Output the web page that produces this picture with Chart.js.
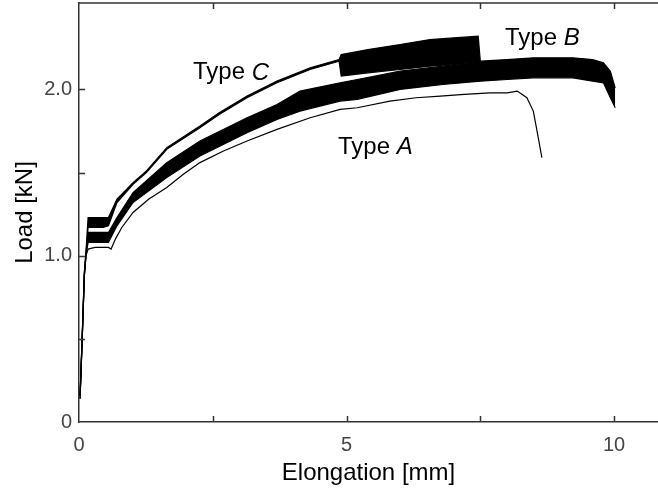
<!DOCTYPE html>
<html>
<head>
<meta charset="utf-8">
<script src="https://cdn.jsdelivr.net/npm/chart.js@4/dist/chart.umd.min.js"></script>
<style>
    html, body { margin: 0; padding: 0; background: #fff; }
    canvas { display: block; }
</style>
</head>
<body>
<canvas id="chart" width="658" height="492"></canvas>
<script>
// Type A: single thin curve
const elongA = [0.02, 0.06, 0.10, 0.13, 0.17, 0.30, 0.45, 0.55, 0.60, 0.68, 0.80, 1.01, 1.30, 1.64, 1.95, 2.26, 2.70, 3.14, 3.70, 4.32, 4.88, 5.20, 5.81, 6.30, 6.75, 7.20, 7.68, 8.00, 8.19, 8.37, 8.49, 8.56, 8.65];
const loadA  = [0.16, 0.50, 0.88, 1.00, 1.04, 1.05, 1.05, 1.05, 1.04, 1.10, 1.17, 1.26, 1.34, 1.41, 1.49, 1.56, 1.63, 1.69, 1.76, 1.83, 1.88, 1.89, 1.93, 1.95, 1.96, 1.97, 1.98, 1.98, 1.99, 1.95, 1.87, 1.75, 1.59];

// Type B: noisy band, upper and lower edge
const elongB = [0.02, 0.06, 0.10, 0.13, 0.17, 0.30, 0.45, 0.55, 0.71, 1.01, 1.64, 2.26, 3.14, 3.70, 4.13, 4.88, 5.20, 6.00, 6.80, 7.50, 8.00, 8.49, 9.23, 9.60, 9.80, 9.93, 10.02];
const upperB = [0.16, 0.52, 0.90, 1.02, 1.14, 1.14, 1.14, 1.14, 1.23, 1.38, 1.56, 1.69, 1.83, 1.91, 1.99, 2.04, 2.06, 2.11, 2.14, 2.17, 2.18, 2.19, 2.19, 2.18, 2.16, 2.11, 2.01];
const lowerB = [0.14, 0.50, 0.88, 1.00, 1.08, 1.08, 1.08, 1.08, 1.18, 1.32, 1.47, 1.60, 1.74, 1.82, 1.87, 1.93, 1.94, 2.00, 2.03, 2.05, 2.06, 2.07, 2.07, 2.05, 2.04, 1.95, 1.89];

// Type C: thin curve, then a band from about 4.9 mm on
const elongC = [0.02, 0.06, 0.10, 0.13, 0.17, 0.30, 0.45, 0.55, 0.71, 1.01, 1.26, 1.64, 2.26, 2.62, 3.14, 3.70, 4.32, 4.86, 4.90, 5.40, 6.00, 6.56, 7.00, 7.46, 7.50];
const upperC = [0.16, 0.52, 0.90, 1.02, 1.23, 1.23, 1.23, 1.23, 1.34, 1.44, 1.51, 1.65, 1.78, 1.86, 1.96, 2.05, 2.13, 2.18, 2.21, 2.24, 2.27, 2.30, 2.31, 2.32, 2.17];
const lowerC = [0.14, 0.50, 0.88, 1.00, 1.17, 1.17, 1.17, 1.18, 1.32, 1.43, 1.50, 1.64, 1.77, 1.85, 1.95, 2.04, 2.12, 2.17, 2.08, 2.10, 2.12, 2.14, 2.15, 2.17, 2.17];

// axis ticks
const xTicks = [2.5, 5, 7.5, 10];
const xTickLabels = { 0: '0', 5: '5', 10: '10' };
const yTicks = [0.5, 1.0, 1.5, 2.0];
const yTickLabels = { 0: '0', 1: '1.0', 2: '2.0' };

// curve labels (name, italic letter, anchor in data units)
const typeNames = ['Type ', 'Type ', 'Type '];
const typeLetters = ['C', 'B', 'A'];
const typeLabelX = [2.13, 7.96, 4.84];
const typeLabelY = [2.10, 2.31, 1.65];

const FONT = "'Liberation Sans', Arial, Helvetica, sans-serif";

function toPoints(xs, ys) {
    return xs.map((x, i) => ({ x: x, y: ys[i] }));
}

function lineSet(xs, ys, fill) {
    return {
        data: toPoints(xs, ys),
        borderColor: '#000',
        borderWidth: 1.2,
        backgroundColor: '#000',
        pointRadius: 0,
        tension: 0,
        fill: fill
    };
}

// inner tick marks, top frame line and the type labels
const framePlugin = {
    id: 'framePlugin',
    afterDraw(chart) {
        const ctx = chart.ctx;
        const a = chart.chartArea;
        const x = chart.scales.x;
        const y = chart.scales.y;
        ctx.save();
        ctx.strokeStyle = '#333';
        ctx.lineWidth = 1.5;
        ctx.beginPath();
        ctx.moveTo(a.left, a.top);
        ctx.lineTo(a.right, a.top);
        xTicks.forEach(v => {
            const px = Math.round(x.getPixelForValue(v)) + 0.5;
            ctx.moveTo(px, a.bottom);
            ctx.lineTo(px, a.bottom - 6);
            ctx.moveTo(px, a.top);
            ctx.lineTo(px, a.top + 6);
        });
        yTicks.forEach(v => {
            const py = Math.round(y.getPixelForValue(v)) + 0.5;
            ctx.moveTo(a.left, py);
            ctx.lineTo(a.left + 6, py);
        });
        ctx.stroke();

        ctx.fillStyle = '#000';
        ctx.textBaseline = 'middle';
        ctx.textAlign = 'left';
        typeNames.forEach((name, i) => {
            const px = x.getPixelForValue(typeLabelX[i]);
            const py = y.getPixelForValue(typeLabelY[i]);
            ctx.font = '24px ' + FONT;
            ctx.fillText(name, px, py);
            const w = ctx.measureText(name).width;
            ctx.font = 'italic 24px ' + FONT;
            ctx.fillText(typeLetters[i], px + w, py);
        });
        ctx.restore();
    }
};

new Chart(document.getElementById('chart'), {
    type: 'line',
    data: {
        datasets: [
            lineSet(elongC, upperC, '+1'),
            lineSet(elongC, lowerC, false),
            lineSet(elongB, upperB, '+1'),
            lineSet(elongB, lowerB, false),
            lineSet(elongA, loadA, false)
        ]
    },
    options: {
        responsive: false,
        animation: false,
        layout: { padding: { top: 3, right: 0, left: 0, bottom: 0 } },
        plugins: {
            legend: { display: false },
            tooltip: { enabled: false }
        },
        scales: {
            x: {
                type: 'linear',
                min: 0,
                max: 10.82,
                afterFit: s => { s.height = 70; s.paddingLeft = 0; s.paddingRight = 0; },
                afterBuildTicks: s => { s.ticks = [0, 5, 10].map(v => ({ value: v })); },
                grid: { display: true, drawOnChartArea: false, drawTicks: false },
                border: { display: true, color: '#333', width: 1.5 },
                ticks: {
                    padding: 11,
                    color: '#444',
                    font: { family: FONT, size: 20 },
                    callback: v => xTickLabels[v] ?? ''
                },
                title: {
                    display: true,
                    text: 'Elongation [mm]',
                    color: '#000',
                    font: { family: FONT, size: 24 },
                    padding: { top: 0, bottom: 4 }
                }
            },
            y: {
                min: 0,
                max: 2.52,
                afterFit: s => { s.width = 79; s.paddingTop = 0; s.paddingBottom = 0; },
                afterBuildTicks: s => { s.ticks = [0, 1, 2].map(v => ({ value: v })); },
                grid: { display: true, drawOnChartArea: false, drawTicks: false },
                border: { display: true, color: '#333', width: 1.5 },
                ticks: {
                    padding: 7,
                    color: '#444',
                    font: { family: FONT, size: 20 },
                    callback: v => yTickLabels[v] ?? ''
                },
                title: {
                    display: true,
                    text: 'Load [kN]',
                    color: '#000',
                    font: { family: FONT, size: 24 },
                    padding: { top: 11, bottom: 0 }
                }
            }
        }
    },
    plugins: [framePlugin]
});
</script>
</body>
</html>
